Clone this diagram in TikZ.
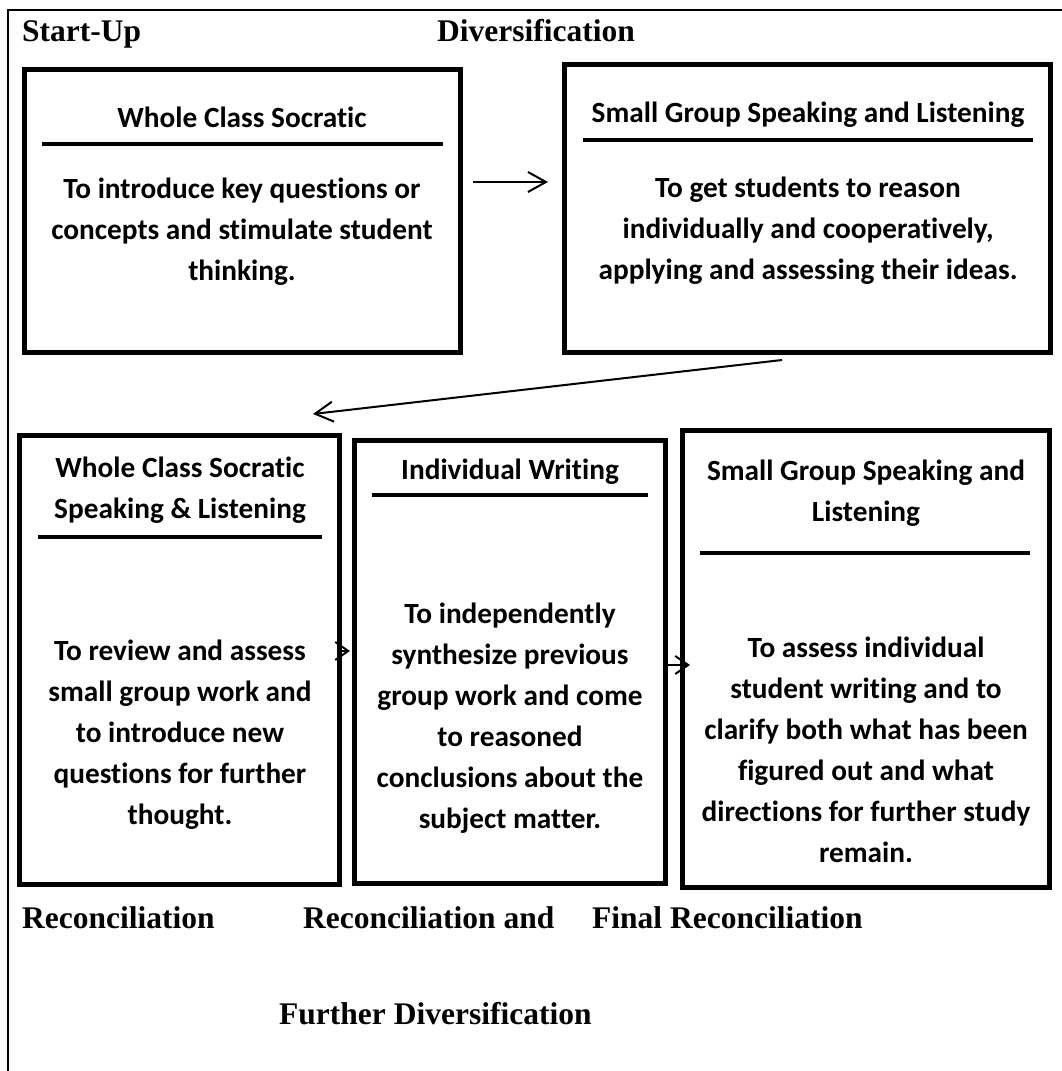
\documentclass[tikz,border=0pt]{standalone}
\usepackage{fontspec}
\setmainfont{Liberation Serif}
\newfontfamily\carlito[RawFeature={-liga;-clig}]{Carlito}
\usetikzlibrary{arrows.meta}

\tikzset{
  stagebox/.style={draw, line width=5pt, inner sep=0pt, minimum width=#1},
  boxrule/.style={line width=4pt},
  frameline/.style={line width=2pt},
  boxtext/.style={font=\carlito\bfseries\fontsize{29.3}{41}\selectfont, align=center, inner sep=0pt},
  phase/.style={font=\bfseries\fontsize{31.5}{38}\selectfont, anchor=base west, inner sep=0pt},
  flow/.style={line width=2pt, -{Straight Barb[length=18pt,width=20pt,line width=2pt]}},
  smallflow/.style={line width=2pt, -{Straight Barb[length=13pt,width=18pt,line width=2pt]}}
}

\begin{document}
\begin{tikzpicture}[x=1pt,y=-1pt]
\useasboundingbox (0,0) rectangle (1062,1071);

% frame: top and left rules only
\draw[frameline] (1062,10) -- (8,10) -- (8,1071);

% phase labels
\node[phase] (startup) at (22,41) {Start-Up};
\node[phase] (diversification) at (437,41) {Diversification};
\node[phase] (recon) at (22,928) {Reconciliation};
\node[phase] (reconand) at (303,928) {Reconciliation and};
\node[phase] (finalrecon) at (592,928) {Final Reconciliation};
\node[phase] (furtherdiv) at (279,1024) {Further Diversification};

% stage boxes
\node[stagebox=435.5pt, minimum height=283pt] (b1) at (242.25,211) {};
\node[stagebox=485.5pt, minimum height=288pt] (b2) at (807.25,208.5) {};
\node[stagebox=320pt, minimum height=449pt] (b3) at (179.5,660) {};
\node[stagebox=311pt, minimum height=442.5pt] (b4) at (510,661.75) {};
\node[stagebox=367pt, minimum height=457pt] (b5) at (866,659) {};

% box 1
\node[boxtext] (h1) at (242,117) {Whole Class Socratic};
\draw[boxrule] (42,144) -- (443,144);
\node[boxtext] (t1) at (242,232) {To introduce key questions or\\concepts and stimulate student\\thinking.};

% box 2
\node[boxtext] (h2) at (808,115) {Small Group Speaking and Listening};
\draw[boxrule] (583,140) -- (1033,140);
\node[boxtext] (t2) at (808,231) {To get students to reason\\individually and cooperatively,\\applying and assessing their ideas.};

% box 3
\node[boxtext] (h3) at (180,490) {Whole Class Socratic\\Speaking \& Listening};
\draw[boxrule] (38,537) -- (322,537);
\node[boxtext] (t3) at (180,735) {To review and assess\\small group work and\\to introduce new\\questions for further\\thought.};

% box 4
\node[boxtext] (h4) at (510,472) {Individual Writing};
\draw[boxrule] (372,495) -- (648,495);
\node[boxtext] (t4) at (510,718) {To independently\\synthesize previous\\group work and come\\to reasoned\\conclusions about the\\subject matter.};

% box 5
\node[boxtext] (h5) at (866,493) {Small Group Speaking and\\Listening};
\draw[boxrule] (700,553) -- (1030,553);
\node[boxtext] (t5) at (866,750) {To assess individual\\student writing and to\\clarify both what has been\\figured out and what\\directions for further study\\remain.};

% connectors
\coordinate (a1s) at (473,182);
\coordinate (a1e) at (548,182);
\draw[flow] (a1s) -- (a1e);

\coordinate (a2s) at (782,360);
\coordinate (a2e) at (313,414);
\draw[flow] (a2s) -- (a2e);

\coordinate (a3s) at (b3.east |- 0,651);
\coordinate (a3e) at (350,651);
\draw[smallflow] (a3s) -- (a3e);

\coordinate (a4s) at (b4.east |- 0,665);
\coordinate (a4e) at (690,665);
\draw[smallflow] (a4s) -- (a4e);
\end{tikzpicture}
\end{document}
